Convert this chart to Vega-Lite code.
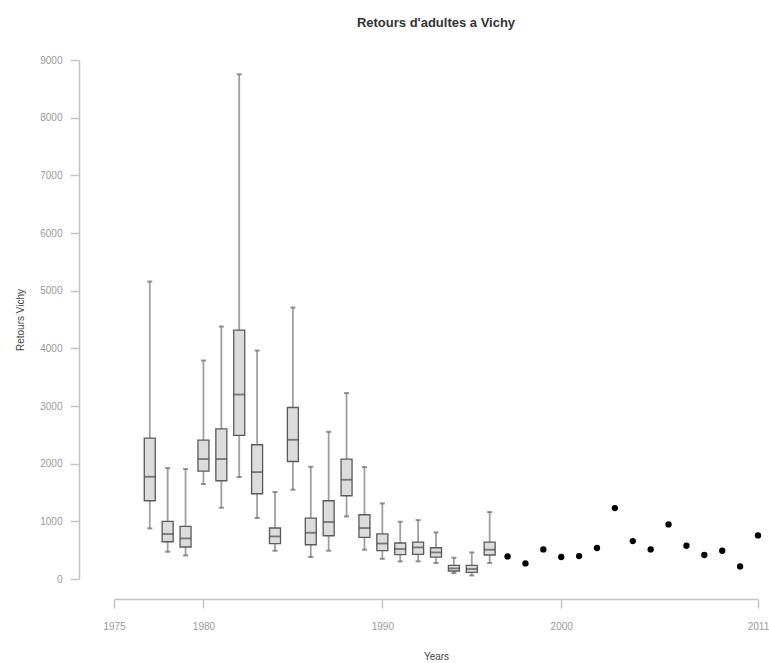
{
  "$schema": "https://vega.github.io/schema/vega-lite/v6.json",
  "autosize": {"type": "none"},
  "width": 644,
  "height": 519,
  "padding": {"left": 114, "top": 60, "right": 11, "bottom": 84},
  "background": "white",
  "title": {
    "text": "Retours d'adultes a Vichy",
    "font": "Liberation Sans",
    "fontSize": 13,
    "fontWeight": "bold",
    "color": "#333333",
    "anchor": "middle",
    "offset": 25
  },
  "config": {
    "view": {"stroke": null},
    "axis": {
      "grid": false,
      "domainColor": "#c4c4c4",
      "domainWidth": 1.5,
      "tickColor": "#c4c4c4",
      "tickWidth": 1.5,
      "labelColor": "#9a9a9a",
      "labelFont": "Liberation Sans",
      "labelFontSize": 10,
      "labelFlush": false,
      "titleFont": "Liberation Sans",
      "titleFontSize": 10,
      "titleFontWeight": "normal",
      "titleColor": "#444444"
    }
  },
  "datasets": {
    "boxes": [
      {"year": 1977, "min": 877, "q1": 1357, "median": 1773, "q3": 2444, "max": 5158},
      {"year": 1978, "min": 473, "q1": 646, "median": 780, "q3": 998, "max": 1924},
      {"year": 1979, "min": 409, "q1": 555, "median": 704, "q3": 912, "max": 1906},
      {"year": 1980, "min": 1646, "q1": 1872, "median": 2080, "q3": 2409, "max": 3789},
      {"year": 1981, "min": 1236, "q1": 1704, "median": 2080, "q3": 2605, "max": 4378},
      {"year": 1982, "min": 1768, "q1": 2489, "median": 3199, "q3": 4315, "max": 8752},
      {"year": 1983, "min": 1057, "q1": 1478, "median": 1854, "q3": 2328, "max": 3962},
      {"year": 1984, "min": 490, "q1": 612, "median": 738, "q3": 884, "max": 1508},
      {"year": 1985, "min": 1548, "q1": 2038, "median": 2414, "q3": 2974, "max": 4707},
      {"year": 1986, "min": 381, "q1": 594, "median": 802, "q3": 1057, "max": 1946},
      {"year": 1987, "min": 490, "q1": 750, "median": 988, "q3": 1357, "max": 2553},
      {"year": 1988, "min": 1085, "q1": 1444, "median": 1721, "q3": 2080, "max": 3224},
      {"year": 1989, "min": 508, "q1": 721, "median": 884, "q3": 1114, "max": 1941},
      {"year": 1990, "min": 350, "q1": 493, "median": 615, "q3": 782, "max": 1311},
      {"year": 1991, "min": 305, "q1": 421, "median": 520, "q3": 624, "max": 993},
      {"year": 1992, "min": 305, "q1": 426, "median": 548, "q3": 641, "max": 1022},
      {"year": 1993, "min": 277, "q1": 381, "median": 461, "q3": 542, "max": 808},
      {"year": 1994, "min": 104, "q1": 139, "median": 184, "q3": 236, "max": 369},
      {"year": 1995, "min": 62, "q1": 114, "median": 173, "q3": 236, "max": 461},
      {"year": 1996, "min": 277, "q1": 416, "median": 508, "q3": 641, "max": 1161}
    ],
    "points": [
      {"year": 1997, "value": 392},
      {"year": 1998, "value": 270},
      {"year": 1999, "value": 513},
      {"year": 2000, "value": 381},
      {"year": 2001, "value": 398},
      {"year": 2002, "value": 537},
      {"year": 2003, "value": 1230},
      {"year": 2004, "value": 658},
      {"year": 2005, "value": 513},
      {"year": 2006, "value": 946},
      {"year": 2007, "value": 577},
      {"year": 2008, "value": 416},
      {"year": 2009, "value": 490},
      {"year": 2010, "value": 218},
      {"year": 2011, "value": 756}
    ]
  },
  "encoding": {
    "x": {
      "field": "year",
      "type": "quantitative",
      "scale": {"domain": [1975, 2011], "nice": false, "zero": false, "padding": 0},
      "axis": {
        "title": "Years",
        "values": [1975, 1980, 1990, 2000, 2011],
        "format": "d",
        "offset": 20,
        "tickSize": 9,
        "labelPadding": 13,
        "titlePadding": 20
      }
    }
  },
  "layer": [
    {
      "data": {"name": "boxes"},
      "mark": {"type": "rule", "color": "#a0a0a0", "strokeWidth": 1.8},
      "encoding": {
        "y": {
          "field": "min",
          "type": "quantitative",
          "scale": {"domain": [0, 9000], "nice": false, "padding": 0},
          "axis": {
            "title": "Retours Vichy",
            "values": [0, 1000, 2000, 3000, 4000, 5000, 6000, 7000, 8000, 9000],
            "format": "d",
            "offset": 35,
            "tickSize": 9,
            "labelPadding": 8,
            "titlePadding": 14
          }
        },
        "y2": {"field": "max"}
      }
    },
    {
      "data": {"name": "boxes"},
      "mark": {"type": "tick", "orient": "horizontal", "color": "#666666", "size": 5, "thickness": 2},
      "encoding": {"y": {"field": "min", "type": "quantitative"}}
    },
    {
      "data": {"name": "boxes"},
      "mark": {"type": "tick", "orient": "horizontal", "color": "#666666", "size": 5, "thickness": 2},
      "encoding": {"y": {"field": "max", "type": "quantitative"}}
    },
    {
      "data": {"name": "boxes"},
      "mark": {"type": "bar", "width": 11, "fill": "#dcdcdc", "stroke": "#5a5a5a", "strokeWidth": 1.3},
      "encoding": {
        "y": {"field": "q1", "type": "quantitative"},
        "y2": {"field": "q3"}
      }
    },
    {
      "data": {"name": "boxes"},
      "mark": {"type": "tick", "orient": "horizontal", "color": "#4a4a4a", "size": 11, "thickness": 1.8},
      "encoding": {"y": {"field": "median", "type": "quantitative"}}
    },
    {
      "data": {"name": "points"},
      "mark": {"type": "circle", "color": "#000000", "opacity": 1, "size": 40},
      "encoding": {"y": {"field": "value", "type": "quantitative"}}
    }
  ]
}
